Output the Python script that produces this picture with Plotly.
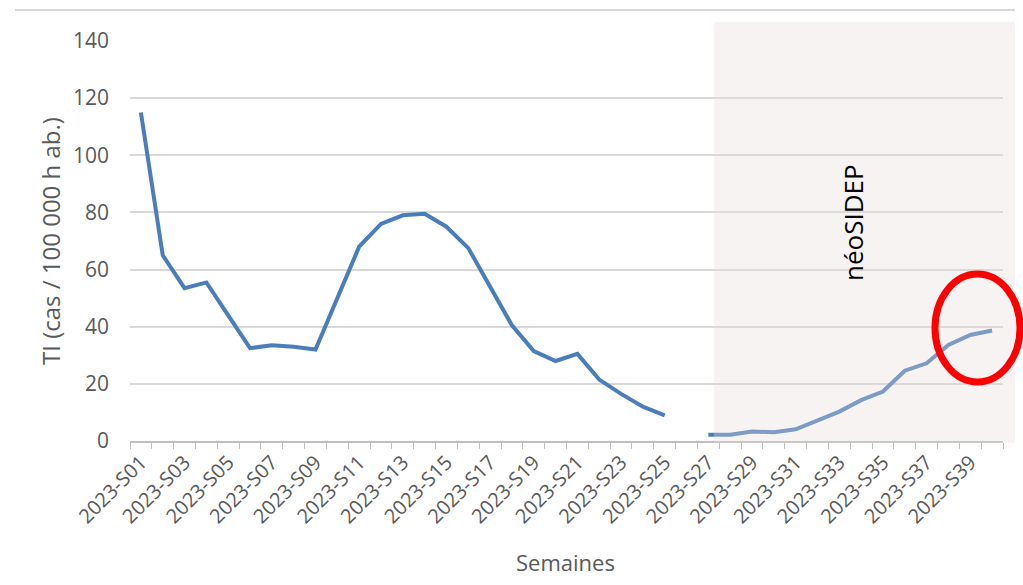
import plotly.graph_objects as go

# Weekly incidence rate (TI, cases per 100 000 inhabitants), weeks 2023-S01 .. 2023-S40
weeks = [f"2023-S{i:02d}" for i in range(1, 41)]
incidence = [
    115, 65, 53.5, 55.5, 44, 32.5, 33.5, 33, 32, 50,
    68, 76, 79, 79.5, 75, 67.5, 54, 40.5, 31.5, 28,
    30.5, 21.5, 16.5, 12, 9, None, 2.2, 2.2, 3.3, 3.1,
    4.1, 7.1, 10.3, 14.3, 17.3, 24.6, 27.2, 33.6, 37.1, 38.7,
]
y_ticks = [0, 20, 40, 60, 80, 100, 120, 140]
shaded_label = "néoSIDEP"
x_title = "Semaines"
y_title = "TI (cas / 100 000 h ab.)"

FONT = "Open Sans"
GREY_TXT = "#595959"
GRID = "#d9d9d9"

x_pos = list(range(len(weeks)))

fig = go.Figure()
fig.add_trace(go.Scatter(
    x=x_pos, y=incidence, mode="lines",
    line=dict(color="#4a7ebb", width=4),
    connectgaps=False, hoverinfo="x+y", showlegend=False,
))

# Plot area spans 130..1003 px horizontally and 41..441 px vertically
L, R, T, B = 130, 1003, 41, 441
W, H = 1023, 585


def px(xp):
    return (xp - L) / (R - L)


def py(yp):
    return (B - yp) / (B - T)


shapes = [
    # néoSIDEP period (light overlay)
    dict(type="rect", xref="paper", yref="paper",
         x0=px(714), x1=px(1015), y0=py(443), y1=py(22),
         fillcolor="rgba(232,218,218,0.32)", line=dict(width=0), layer="above"),
    # chart frame top border
    dict(type="line", xref="paper", yref="paper",
         x0=px(15), x1=px(1015), y0=py(10), y1=py(10),
         line=dict(color="#d9d9d9", width=2)),
    # red highlight ellipse around the latest weeks
    dict(type="circle", xref="paper", yref="paper",
         x0=px(935), x1=px(1020), y0=py(382), y1=py(274),
         line=dict(color="#ff0000", width=7), fillcolor="rgba(0,0,0,0)", layer="above"),
]

annotations = [
    dict(text=shaded_label, xref="paper", yref="paper",
         x=px(873), y=py(223), showarrow=False, textangle=-90,
         font=dict(family=FONT, size=26, color="#000000")),
    dict(text=x_title, xref="paper", yref="paper",
         x=px(565), y=py(562), showarrow=False,
         xanchor="center", yanchor="middle",
         font=dict(family=FONT, size=22, color=GREY_TXT)),
    dict(text=y_title, xref="paper", yref="paper",
         x=px(50), y=py(241), showarrow=False, textangle=-90,
         xanchor="center", yanchor="middle",
         font=dict(family=FONT, size=24, color=GREY_TXT)),
]

fig.update_layout(
    width=W, height=H,
    margin=dict(l=L, r=W - R, t=T, b=H - B, pad=0),
    paper_bgcolor="white", plot_bgcolor="white",
    font=dict(family=FONT, color=GREY_TXT),
    shapes=shapes, annotations=annotations,
    xaxis=dict(
        range=[-0.5, len(weeks) - 0.5],
        tickmode="array", tickvals=x_pos[::2], ticktext=weeks[::2],
        tickangle=-45, tickfont=dict(family=FONT, size=20, color=GREY_TXT),
        ticks="", showgrid=False, zeroline=False,
        showline=True, linecolor="#bfbfbf", linewidth=1.5,
        minor=dict(ticks="outside", tick0=-0.5, dtick=1, ticklen=6,
                   tickcolor="#bfbfbf", tickwidth=1, showgrid=False),
        fixedrange=True,
    ),
    yaxis=dict(
        range=[0, 140], tickmode="array", tickvals=y_ticks,
        tickfont=dict(family=FONT, size=21, color=GREY_TXT),
        ticklabelstandoff=20,
        showgrid=True, gridcolor=GRID, gridwidth=1.5, zeroline=False,
        showline=False, ticks="",
        fixedrange=True,
    ),
)

fig.write_html("out.html")
